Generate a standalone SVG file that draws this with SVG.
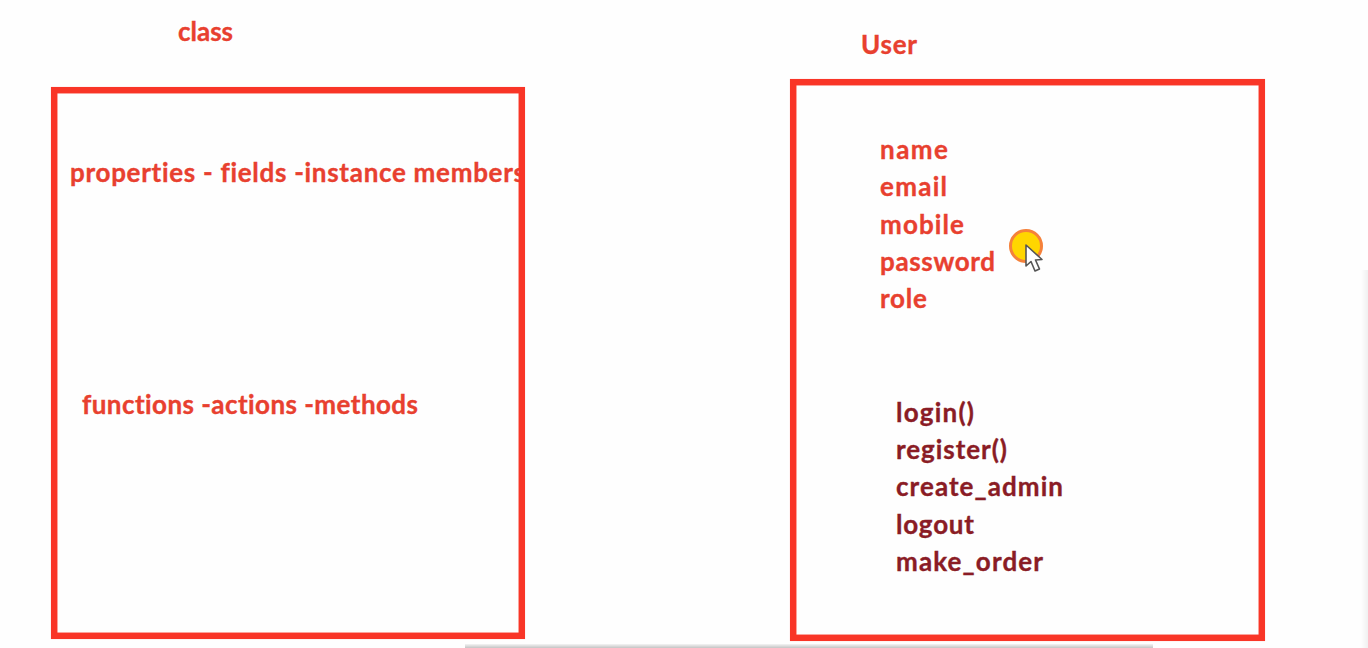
<svg xmlns="http://www.w3.org/2000/svg" width="1368" height="648" viewBox="0 0 1368 648">
<style>
.box{fill:none;stroke:#f93527;stroke-width:6.5}
text{font-family:Lato,"Open Sans",sans-serif;font-weight:700;font-size:26px;font-variant-ligatures:none;stroke-width:.35px}
.r{fill:#e8402f;stroke:#e8402f}
.d{fill:#8a1c25;stroke:#8a1c25}
</style>
<defs>
<linearGradient id="bar" x1="0" y1="0" x2="0" y2="1"><stop offset="0" stop-color="#f4f4f4"/><stop offset="1" stop-color="#c4c4c4"/></linearGradient>
<linearGradient id="side" x1="0" y1="0" x2="1" y2="0"><stop offset="0" stop-color="#fefefe"/><stop offset="1" stop-color="#f0f0f0"/></linearGradient>
</defs>
<rect width="1368" height="648" fill="#fefefe"/>
<rect x="1361" y="270" width="7" height="378" fill="url(#side)"/>
<rect x="465" y="644" width="688" height="4" fill="url(#bar)"/>
<g id="class-node">
<text class="r" x="178" y="41" textLength="55">class</text>
<text class="r" x="70" y="182" textLength="455">properties - fields -instance members</text>
<text class="r" x="82" y="414" textLength="336">functions -actions -methods</text>
<rect class="box" x="54.2" y="90.2" width="467.6" height="545.6"/>
</g>
<g id="user-node">
<text class="r" x="861" y="54" textLength="56">User</text>
<rect class="box" x="793.2" y="82.2" width="468.6" height="555.6"/>
<text class="r" x="880" y="159" textLength="68">name</text>
<text class="r" x="880" y="196" textLength="67">email</text>
<text class="r" x="880" y="234" textLength="84">mobile</text>
<text class="r" x="880" y="271" textLength="115">password</text>
<text class="r" x="880" y="308" textLength="47">role</text>
<text class="d" x="896" y="422" textLength="78">login()</text>
<text class="d" x="896" y="459" textLength="111">register()</text>
<text class="d" x="896" y="496" textLength="167">create_admin</text>
<text class="d" x="896" y="534" textLength="78">logout</text>
<text class="d" x="896" y="571" textLength="147">make_order</text>
</g>
<g id="cursor-highlight">
<circle cx="1026" cy="246" r="15.500" fill="#ffd600" stroke="#f5813a" stroke-width="3"/>
<path d="M1026 245V266L1031 261.500L1035 271L1039.500 269L1035.500 260L1042 259.500Z" fill="#fff" stroke="#555" stroke-width="1.600" stroke-linejoin="round"/>
</g>
</svg>
